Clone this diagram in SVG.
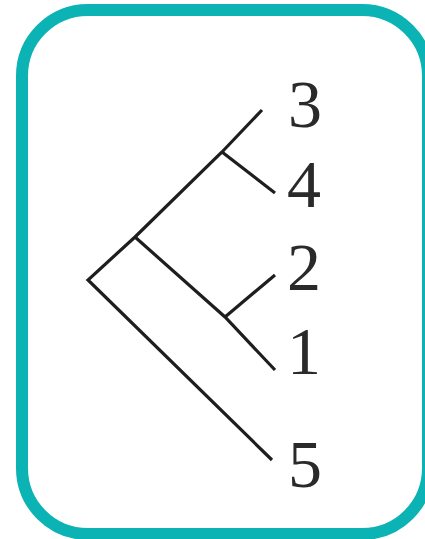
<svg xmlns="http://www.w3.org/2000/svg" width="425" height="539" viewBox="0 0 425 539">
<style>
.frame{fill:#fff;stroke:#0bb3b4;stroke-width:12}
.br{fill:none;stroke:#1e1e1e;stroke-width:3.2;stroke-linecap:butt;stroke-linejoin:miter}
.lbl{font-family:"Liberation Serif","Times New Roman",serif;font-size:68px;fill:#2a2a2a;text-anchor:middle}
</style>
<rect class="frame" x="22" y="10" width="406" height="524" rx="66" ry="66"/>
<g id="connectors">
<path class="br" d="M262,110 L222,152 L135,237 L88,280 L272,460"/>
<path class="br" d="M222,152 L275,193"/>
<path class="br" d="M135,237 L225,317 L275,370"/>
<path class="br" d="M225,317 L275,275"/>
</g>
<g id="n3"><text class="lbl" x="305" y="127">3</text></g>
<g id="n4"><text class="lbl" x="304" y="207">4</text></g>
<g id="n2"><text class="lbl" x="304" y="290">2</text></g>
<g id="n1"><text class="lbl" x="304" y="374">1</text></g>
<g id="n5"><text class="lbl" x="305" y="487">5</text></g>
</svg>
